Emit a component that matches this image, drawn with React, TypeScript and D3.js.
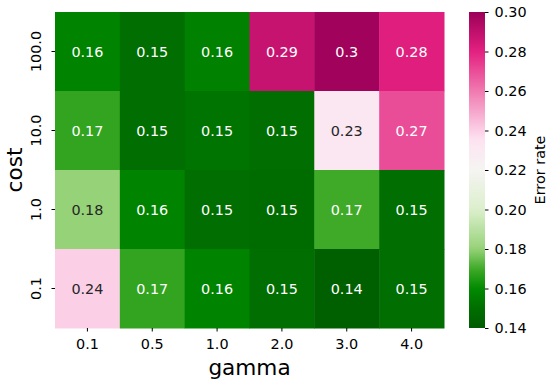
import React, { useRef, useEffect } from 'react';
import * as d3 from 'd3';

// data
const gammas = ['0.1', '0.5', '1.0', '2.0', '3.0', '4.0'];
const costs = ['100.0', '10.0', '1.0', '0.1'];
const errorRates = [
  [0.158, 0.150, 0.157, 0.288, 0.298, 0.281],
  [0.168, 0.150, 0.152, 0.150, 0.232, 0.270],
  [0.180, 0.158, 0.150, 0.149, 0.170, 0.150],
  [0.240, 0.168, 0.158, 0.150, 0.142, 0.150],
];
const cbarTicks = [0.14, 0.16, 0.18, 0.2, 0.22, 0.24, 0.26, 0.28, 0.3];

// green -> white -> magenta colour stops
const cmapStops = [0.14, 0.15, 0.16, 0.17, 0.18, 0.2, 0.22, 0.235, 0.24, 0.26, 0.28, 0.3];
const cmapColors = ['#005c00', '#006e00', '#008a00', '#3eaa28', '#96d278', '#dcefcc', '#f5f4f2',
  '#fde4f1', '#fbd0e6', '#f07ab0', '#e42080', '#9a0058'];

const App = () => {
  const svgRef = useRef(null);

  useEffect(() => {
    const width = 550;
    const height = 383;
    const margin = { top: 12, left: 55, right: 106, bottom: 55 };

    const svg = d3.select(svgRef.current)
      .attr('width', width)
      .attr('height', height);
    svg.selectAll('*').remove();

    const color = d3.scaleLinear().domain(cmapStops).range(cmapColors).clamp(true);

    const x = d3.scaleBand().domain(gammas).range([margin.left, width - margin.right]);
    const y = d3.scaleBand().domain(costs).range([margin.top, height - margin.bottom]);

    const fmt = d3.format('.2~g');
    const font = 'DejaVu Sans, sans-serif';
    const tickSize = '14.4px';
    const labelSize = '21.6px';

    const cells = errorRates.flatMap((row, i) => row.map((v, j) => ({ cost: costs[i], gamma: gammas[j], v })));

    svg.append('g').selectAll('rect')
      .data(cells)
      .enter().append('rect')
      .attr('x', d => x(d.gamma))
      .attr('y', d => y(d.cost))
      .attr('width', x.bandwidth() + 0.5)
      .attr('height', y.bandwidth() + 0.5)
      .attr('fill', d => color(d.v));

    svg.append('g').selectAll('text')
      .data(cells)
      .enter().append('text')
      .attr('x', d => x(d.gamma) + x.bandwidth() / 2)
      .attr('y', d => y(d.cost) + y.bandwidth() / 2)
      .attr('text-anchor', 'middle')
      .attr('dominant-baseline', 'central')
      .style('font-family', font)
      .style('font-size', tickSize)
      .attr('fill', d => {
        const c = d3.rgb(color(d.v));
        const lum = (0.2126 * c.r + 0.7152 * c.g + 0.0722 * c.b) / 255;
        return lum > 0.62 ? '#262626' : '#ffffff';
      })
      .text(d => fmt(d.v));

    // x axis
    const xAxis = svg.append('g')
      .attr('transform', `translate(0,${height - margin.bottom})`)
      .call(d3.axisBottom(x).tickSize(3.5).tickPadding(7));
    xAxis.select('.domain').remove();
    xAxis.selectAll('text').style('font-family', font).style('font-size', tickSize).attr('fill', '#000');

    // y axis
    const yAxis = svg.append('g')
      .attr('transform', `translate(${margin.left},0)`)
      .call(d3.axisLeft(y).tickSize(3.5));
    yAxis.select('.domain').remove();
    yAxis.selectAll('.tick text')
      .style('font-family', font).style('font-size', tickSize).attr('fill', '#000')
      .attr('text-anchor', 'middle')
      .attr('x', 0).attr('y', 0).attr('dy', 0)
      .attr('dominant-baseline', 'central')
      .attr('transform', 'translate(-19,0) rotate(-90)');

    svg.append('text')
      .attr('x', (margin.left + width - margin.right) / 2)
      .attr('y', 375)
      .attr('text-anchor', 'middle')
      .style('font-family', font)
      .style('font-size', labelSize)
      .text('gamma');

    svg.append('text')
      .attr('transform', `translate(22,${(margin.top + height - margin.bottom) / 2}) rotate(-90)`)
      .attr('text-anchor', 'middle')
      .style('font-family', font)
      .style('font-size', labelSize)
      .text('cost');

    // colorbar
    const cbX = 469;
    const cbW = 16;
    const cbScale = d3.scaleLinear().domain([0.14, 0.3]).range([height - margin.bottom, margin.top]);

    const defs = svg.append('defs');
    const grad = defs.append('linearGradient')
      .attr('id', 'cbar-grad')
      .attr('x1', 0).attr('y1', 1).attr('x2', 0).attr('y2', 0);
    d3.range(0, 1.0001, 0.02).forEach(t => {
      grad.append('stop')
        .attr('offset', t)
        .attr('stop-color', color(0.14 + t * 0.16));
    });

    svg.append('rect')
      .attr('x', cbX)
      .attr('y', margin.top)
      .attr('width', cbW)
      .attr('height', height - margin.bottom - margin.top)
      .attr('fill', 'url(#cbar-grad)');

    const cbAxis = svg.append('g')
      .attr('transform', `translate(${cbX + cbW},0)`)
      .call(d3.axisRight(cbScale).tickValues(cbarTicks).tickFormat(d3.format('.2f')).tickSize(3.5).tickPadding(6));
    cbAxis.select('.domain').remove();
    cbAxis.selectAll('text').style('font-family', font).style('font-size', tickSize).attr('fill', '#000');

    svg.append('text')
      .attr('transform', `translate(540,${(margin.top + height - margin.bottom) / 2}) rotate(-90)`)
      .attr('text-anchor', 'middle')
      .attr('dominant-baseline', 'central')
      .style('font-family', font)
      .style('font-size', tickSize)
      .text('Error rate');
  }, []);

  return (
    <svg ref={svgRef} style={{ position: 'absolute', left: 0, top: 0, background: '#fff' }}></svg>
  );
};

export default App;
